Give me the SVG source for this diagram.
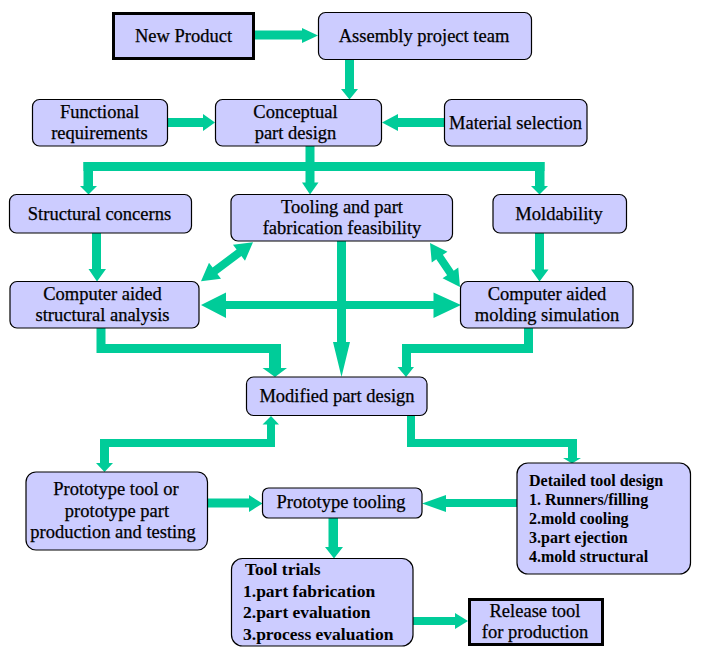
<svg xmlns="http://www.w3.org/2000/svg" width="705" height="667" viewBox="0 0 705 667">
<style>
.box{fill:#CCCCFF;stroke:#000;stroke-width:1.2}
.bold-box{fill:#CCCCFF;stroke:#000;stroke-width:3}
.c{fill:#00CC99;stroke:none}
text{font-family:"Liberation Serif","Times New Roman",serif;font-size:18.5px;fill:#000;stroke:#000;stroke-width:0.25}
.m{text-anchor:middle}
.b16{font-size:16px;font-weight:bold;stroke-width:0}
.b17{font-size:17.5px;font-weight:bold;stroke-width:0}
</style>
<rect width="705" height="667" fill="#fff"/>
<g id="connectors" class="c">
  <!-- New Product -> Assembly -->
  <polygon points="255,30.5 302,30.5 302,28 318,35.5 302,43 302,39.5 255,39.5"/>
  <!-- Assembly -> Conceptual -->
  <polygon points="345,59 354,59 354,89 358,89 349.5,99.5 341,89 345,89"/>
  <!-- Functional -> Conceptual -->
  <polygon points="167,118 203,118 203,114 215,122.5 203,131 203,127 167,127"/>
  <!-- Material -> Conceptual -->
  <polygon points="444,118 398,118 398,114 382,122.5 398,131 398,127 444,127"/>
  <!-- Conceptual -> three branches -->
  <rect x="305.5" y="146" width="9" height="25"/>
  <rect x="83.5" y="162" width="461" height="9"/>
  <rect x="83.5" y="162" width="9.5" height="24.5"/>
  <polygon points="80,186 97,186 88.5,194.5"/>
  <rect x="305.5" y="162" width="9" height="21"/>
  <polygon points="302,182.5 318.5,182.5 310,194.5"/>
  <rect x="535" y="162" width="9.5" height="24.5"/>
  <polygon points="531,186 548,186 539.5,194.5"/>
  <!-- Structural -> CAS -->
  <polygon points="92,233 101,233 101,269 106,269 97,281.5 88.5,269 92,269"/>
  <!-- Moldability -> CAMS -->
  <polygon points="535,233 544,233 544,269.5 548.5,269.5 539.5,281.5 531,269.5 535,269.5"/>
  <!-- Tooling <-> CAS diagonal -->
  <polygon transform="translate(227,261.7) rotate(143.13)" points="-32.5,0 -15,-10 -15,-4 15,-4 15,-10 32.5,0 15,10 15,4 -15,4 -15,10"/>
  <!-- Tooling <-> CAMS diagonal -->
  <polygon transform="translate(445,265) rotate(55.7)" points="-26.6,0 -9.6,-9.5 -9.6,-4 9.6,-4 9.6,-9.5 26.6,0 9.6,9.5 9.6,4 -9.6,4 -9.6,9.5"/>
  <!-- CAS <-> CAMS horizontal -->
  <polygon points="201,305 226,292.5 226,301 433.5,301 433.5,292.5 461,305 433.5,318 433.5,309 226,309 226,318"/>
  <!-- Tooling -> Modified -->
  <polygon points="337,241 346,241 346,342 350,342 341.5,377 333,342 337,342"/>
  <!-- CAS -> Modified elbow -->
  <polygon points="96.5,328 105.5,328 105.5,344 281,344 281,368 287,368 275,377 262.5,368 269,368 269,353 96.5,353"/>
  <!-- CAMS -> Modified elbow -->
  <polygon points="533,328 524,328 524,344 402,344 402,367 397.5,367 406,377 414,367 411,367 411,353 533,353"/>
  <!-- Modified <-> Prototype tool elbow -->
  <polygon points="271,416 279,424.5 275,424.5 275,447 109,447 109,463 113,463 104.5,472 96,463 100,463 100,439 267,439 267,424.5 262.5,424.5"/>
  <!-- Modified -> Detailed elbow -->
  <polygon points="407,416 415,416 415,439 577,439 577,458 581,458 572,463.5 563,458 568,458 568,447 407,447"/>
  <!-- Prototype tool -> Prototype tooling -->
  <polygon points="207,498.5 249,498.5 249,495 262.5,503.5 249,512 249,507.5 207,507.5"/>
  <!-- Detailed -> Prototype tooling -->
  <polygon points="517,499 446,499 446,495 422,503.5 446,512 446,507 517,507"/>
  <!-- Prototype tooling -> Tool trials -->
  <polygon points="328.5,518 338,518 338,547 343,547 334,558.5 325,547 328.5,547"/>
  <!-- Tool trials -> Release -->
  <polygon points="413,617 455,617 455,613 468,621 455,629 455,625 413,625"/>
</g>
<g id="n-new-product">
  <rect class="bold-box" x="113.5" y="13.5" width="140" height="45"/>
  <text class="m" x="183.5" y="42">New Product</text>
</g>
<g id="n-assembly">
  <rect class="box" x="318.5" y="12.5" width="213" height="47" rx="7"/>
  <text class="m" x="424" y="42">Assembly project team</text>
</g>
<g id="n-functional">
  <rect class="box" x="32.5" y="99.5" width="135" height="46.5" rx="7"/>
  <text class="m" x="99.5" y="118">Functional</text>
  <text class="m" x="99.5" y="138.5">requirements</text>
</g>
<g id="n-conceptual">
  <rect class="box" x="215.5" y="99.5" width="166" height="46.5" rx="7"/>
  <text class="m" x="295.5" y="118">Conceptual</text>
  <text class="m" x="295.5" y="139">part design</text>
</g>
<g id="n-material">
  <rect class="box" x="444.5" y="99.5" width="142.5" height="46.5" rx="7"/>
  <text class="m" x="515.5" y="129">Material selection</text>
</g>
<g id="n-structural">
  <rect class="box" x="9.5" y="194.5" width="182" height="38.5" rx="7"/>
  <text class="m" x="99.5" y="220">Structural concerns</text>
</g>
<g id="n-tooling">
  <rect class="box" x="231" y="194.5" width="221.5" height="46.5" rx="7"/>
  <text class="m" x="342" y="213">Tooling and part</text>
  <text class="m" x="342" y="233.5">fabrication feasibility</text>
</g>
<g id="n-moldability">
  <rect class="box" x="493" y="194.5" width="133.5" height="38.5" rx="7"/>
  <text class="m" x="559" y="220">Moldability</text>
</g>
<g id="n-cas">
  <rect class="box" x="10" y="281.5" width="189" height="46.5" rx="7"/>
  <text class="m" x="102.5" y="300">Computer aided</text>
  <text class="m" x="102.5" y="321">structural analysis</text>
</g>
<g id="n-cams">
  <rect class="box" x="460.5" y="281.5" width="172.5" height="46.5" rx="7"/>
  <text class="m" x="547" y="300">Computer aided</text>
  <text class="m" x="547" y="321">molding simulation</text>
</g>
<g id="n-modified">
  <rect class="box" x="246.5" y="377" width="180.5" height="38.5" rx="7"/>
  <text class="m" x="337" y="402">Modified part design</text>
</g>
<g id="n-prototype-tool">
  <rect class="box" x="26" y="472" width="181.5" height="78" rx="10"/>
  <text class="m" x="116" y="495">Prototype tool or</text>
  <text class="m" x="117" y="517">prototype part</text>
  <text class="m" x="113" y="538">production and testing</text>
</g>
<g id="n-prototype-tooling">
  <rect class="box" x="262.5" y="488" width="159.5" height="30" rx="6"/>
  <text class="m" x="341" y="508">Prototype tooling</text>
</g>
<g id="n-detailed">
  <rect class="box" x="517" y="463" width="173.5" height="111" rx="11"/>
  <text class="b16" x="529" y="486">Detailed tool design</text>
  <text class="b16" x="529" y="505">1. Runners/filling</text>
  <text class="b16" x="529" y="524">2.mold cooling</text>
  <text class="b16" x="529" y="543">3.part ejection</text>
  <text class="b16" x="529" y="562">4.mold structural</text>
</g>
<g id="n-tool-trials">
  <rect class="box" x="231.5" y="558.5" width="181.5" height="87.5" rx="11"/>
  <text class="b17" x="245" y="575">Tool trials</text>
  <text class="b17" x="243" y="597">1.part fabrication</text>
  <text class="b17" x="243" y="618">2.part evaluation</text>
  <text class="b17" x="243" y="640">3.process evaluation</text>
</g>
<g id="n-release">
  <rect class="bold-box" x="469.5" y="599.5" width="133" height="45"/>
  <text class="m" x="535" y="617">Release tool</text>
  <text class="m" x="535" y="638">for production</text>
</g>
</svg>
